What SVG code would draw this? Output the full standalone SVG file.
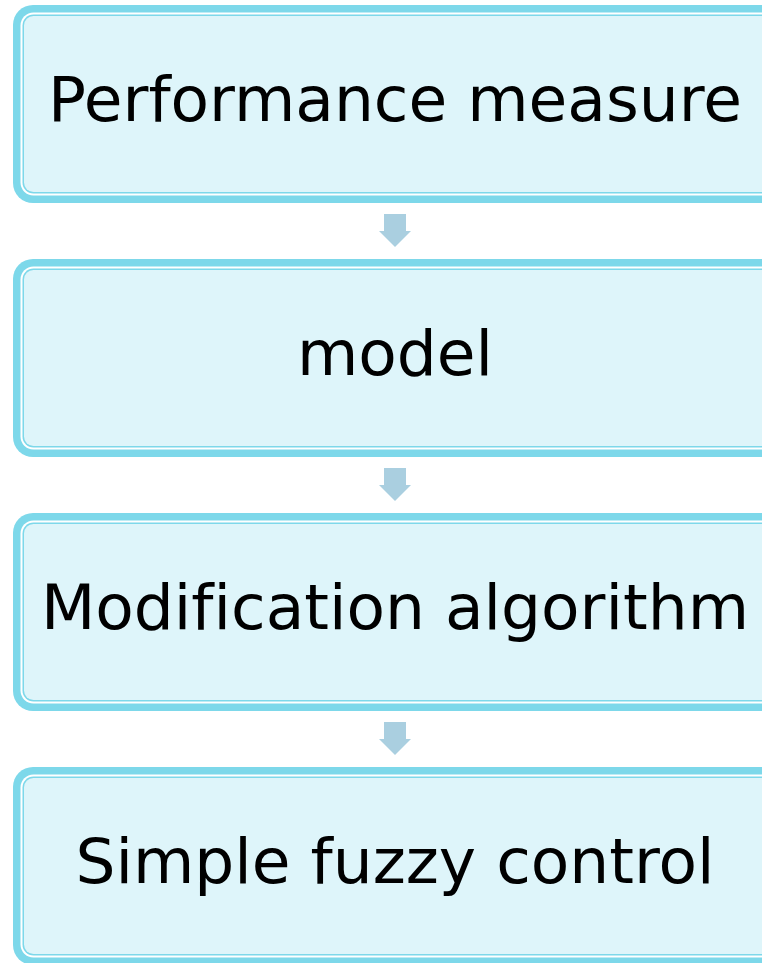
<svg xmlns="http://www.w3.org/2000/svg" width="762" height="963" viewBox="0 0 762 963">
<style>
.o{fill:#7dd8ea}
.w{fill:#ffffff}
.f{fill:#def5fa}
.t{font-family:"DejaVu Sans",sans-serif;font-size:63px;fill:#000;text-anchor:middle;font-variant-ligatures:none}
.a{fill:#aacfe0}
</style>
<defs>
<g id="box">
<rect class="o" x="13" y="0" width="800" height="198" rx="20"/>
<rect class="w" x="20.5" y="7.5" width="785" height="183" rx="13"/>
<rect class="o" x="22.5" y="9.5" width="781" height="179" rx="11"/>
<rect class="f" x="24" y="11" width="778" height="176" rx="9.5"/>
</g>
<polygon id="arr" points="384,0 406,0 406,17 411,17 395,33 379,17 384,17"/>
</defs>
<g id="connectors">
<use href="#arr" class="a" y="214"/>
<use href="#arr" class="a" y="468"/>
<use href="#arr" class="a" y="722"/>
</g>
<g id="n1"><use href="#box" y="5"/><text class="t" x="395" y="121">Performance measure</text></g>
<g id="n2"><use href="#box" y="259"/><text class="t" x="395" y="375">model</text></g>
<g id="n3"><use href="#box" y="513"/><text class="t" x="395" y="629">Modification algorithm</text></g>
<g id="n4"><use href="#box" y="767"/><text class="t" x="395" y="883">Simple fuzzy control</text></g>
</svg>
